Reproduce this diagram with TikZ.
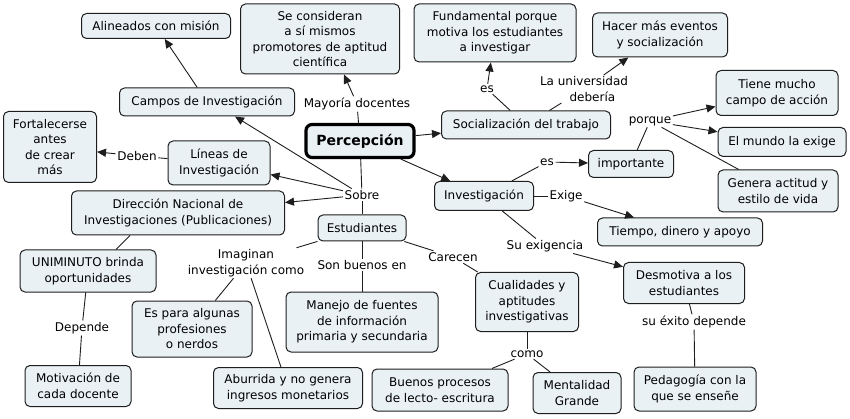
\documentclass[tikz,border=0pt]{standalone}
\usepackage{fontspec}
\setmainfont{DejaVu Sans}
\usetikzlibrary{arrows.meta,calc}
\definecolor{boxfill}{RGB}{233,241,245}
\definecolor{lnk}{RGB}{30,30,30}
\begin{document}
\begin{tikzpicture}[x=1pt,y=-1pt,
  every node/.style={font=\fontsize{12}{15.5}\selectfont},
  box/.style={draw=lnk, fill=boxfill, rounded corners=5pt, line width=1pt, align=center, inner sep=2pt},
  lbl/.style={align=center, inner sep=1.5pt},
  ln/.style={draw=lnk, line width=0.9pt},
  arr/.style={ln, -{Triangle[length=9pt,width=8pt]}}]
\useasboundingbox (0,0) rectangle (850,419);
\fill[white] (0,0) rectangle (850,419);
% concepts
\node[box, minimum width=149, minimum height=25] (ali) at (156,26) {Alineados con misión};
\node[box, minimum width=159, minimum height=70] (secons) at (320,39) {Se consideran\\a sí mismos\\promotores de aptitud\\científica};
\node[box, minimum width=162, minimum height=58] (fund) at (495,33) {Fundamental porque\\motiva los estudiantes\\a investigar};
\node[box, minimum width=135, minimum height=44] (hacer) at (660,35) {Hacer más eventos\\y socialización};
\node[box, minimum width=175, minimum height=28] (campos) at (207,102) {Campos de Investigación};
\node[box, minimum width=93, minimum height=71] (fort) at (50,147) {Fortalecerse\\antes\\de crear\\más};
\node[box, draw=black, line width=3.2pt, rounded corners=6pt, minimum width=108, minimum height=33, font=\fontsize{14}{16}\selectfont\bfseries] (perc) at (360,141) {Percepción};
\node[box, minimum width=169, minimum height=28] (soc) at (526,125) {Socialización del trabajo};
\node[box, minimum width=122, minimum height=45] (tiene) at (777,93) {Tiene mucho\\campo de acción};
\node[box, minimum width=128, minimum height=29] (mundo) at (782,142) {El mundo la exige};
\node[box, minimum width=85, minimum height=27] (imp) at (631,164) {importante};
\node[box, minimum width=120, minimum height=42] (genera) at (778,191) {Genera actitud y\\estilo de vida};
\node[box, minimum width=102, minimum height=44] (lineas) at (219,163) {Líneas de\\Investigación};
\node[box, minimum width=99, minimum height=29] (inv) at (484,196) {Investigación};
\node[box, minimum width=213, minimum height=44] (dir) at (178,213) {Dirección Nacional de\\Investigaciones (Publicaciones)};
\node[box, minimum width=88, minimum height=26] (est) at (362,228) {Estudiantes};
\node[box, minimum width=165, minimum height=28] (tiempo) at (680,232) {Tiempo, dinero y apoyo};
\node[box, minimum width=136, minimum height=42] (unimin) at (88,271) {UNIMINUTO brinda\\oportunidades};
\node[box, minimum width=121, minimum height=41] (desmo) at (684,283) {Desmotiva a los\\estudiantes};
\node[box, minimum width=103, minimum height=59] (cual) at (527,302) {Cualidades y\\aptitudes\\investigativas};
\node[box, minimum width=152, minimum height=60] (manejo) at (362,322) {Manejo de fuentes\\de información\\primaria y secundaria};
\node[box, minimum width=120, minimum height=56] (espara) at (192,329) {Es para algunas\\profesiones\\o nerdos};
\node[box, minimum width=106, minimum height=41] (motiv) at (78,386) {Motivación de\\cada docente};
\node[box, minimum width=149, minimum height=41] (aburr) at (288,388) {Aburrida y no genera\\ingresos monetarios};
\node[box, minimum width=136, minimum height=42] (buenos) at (440,390) {Buenos procesos\\de lecto- escritura};
\node[box, minimum width=88, minimum height=41] (mental) at (577,393) {Mentalidad\\Grande};
\node[box, minimum width=122, minimum height=44] (pedag) at (695,389) {Pedagogía con la\\que se enseñe};
% linking phrases
\node[lbl] (mayor) at (357,104) {Mayoría docentes};
\node[lbl] (les) at (487,89) {es};
\node[lbl] (ladeb) at (584,89) {La universidad\\\hspace*{1.4em}debería};
\node[lbl] (porque) at (650,121) {porque};
\node[lbl] (deben) at (137,156) {Deben};
\node[lbl] (sobre) at (362,195) {Sobre};
\node[lbl] (ies) at (547,162) {es};
\node[lbl] (exige) at (566,196) {Exige};
\node[lbl] (suex) at (545,246) {Su exigencia};
\node[lbl] (imag) at (246,263) {Imaginan\\investigación como};
\node[lbl] (sonb) at (362,265) {Son buenos en};
\node[lbl] (carec) at (453,257) {Carecen};
\node[lbl] (depende) at (82,328) {Depende};
\node[lbl] (como) at (527,354) {como};
\node[lbl] (suexito) at (694,322) {su éxito depende};
% connectors
\draw[ln] (perc) -- (mayor);
\draw[arr] (mayor) -- ($(secons.south)+(24,0)$);
\draw[arr] (perc) -- (soc);
\draw[arr] (perc) -- (inv);
\draw[ln] (perc) -- (sobre);
\draw[arr] (sobre) -- ($(campos.south)+(28,0)$);
\draw[arr] (sobre) -- (lineas);
\draw[arr] (sobre) -- (dir);
\draw[ln] (sobre) -- (est);
\draw[arr] (campos) -- (ali);
\draw[ln] (lineas) -- (deben);
\draw[arr] (deben) -- (fort);
\draw[ln] ($(dir.south)+(-48,0)$) -- ($(unimin.north)+(28,0)$);
\draw[ln] (unimin) -- (depende);
\draw[ln] (depende) -- (motiv);
\draw[ln] (est) -- (imag);
\draw[ln] (imag) -- (espara);
\draw[ln] (imag) -- (aburr);
\draw[ln] (est) -- (sonb);
\draw[ln] (sonb) -- (manejo);
\draw[ln] (est) -- (carec);
\draw[ln] (carec) -- (cual);
\draw[ln] (cual) -- (como);
\draw[ln] (como) -- (buenos);
\draw[ln] (como) -- (mental);
\draw[ln] (soc) -- (les);
\draw[arr] (les) -- (fund);
\draw[ln] (soc) -- (ladeb);
\draw[arr] (ladeb) -- (hacer);
\draw[ln] (inv) -- (ies);
\draw[arr] (ies) -- (imp);
\draw[ln] (imp) -- (porque);
\draw[arr] (porque) -- (tiene);
\draw[arr] (porque) -- (mundo);
\draw[ln] (porque) -- (genera);
\draw[ln] (inv) -- (exige);
\draw[arr] (exige) -- (tiempo);
\draw[ln] (inv) -- (suex);
\draw[arr] (suex) -- (desmo);
\draw[ln] (desmo) -- (suexito);
\draw[ln] (suexito) -- (pedag);
\end{tikzpicture}
\end{document}
